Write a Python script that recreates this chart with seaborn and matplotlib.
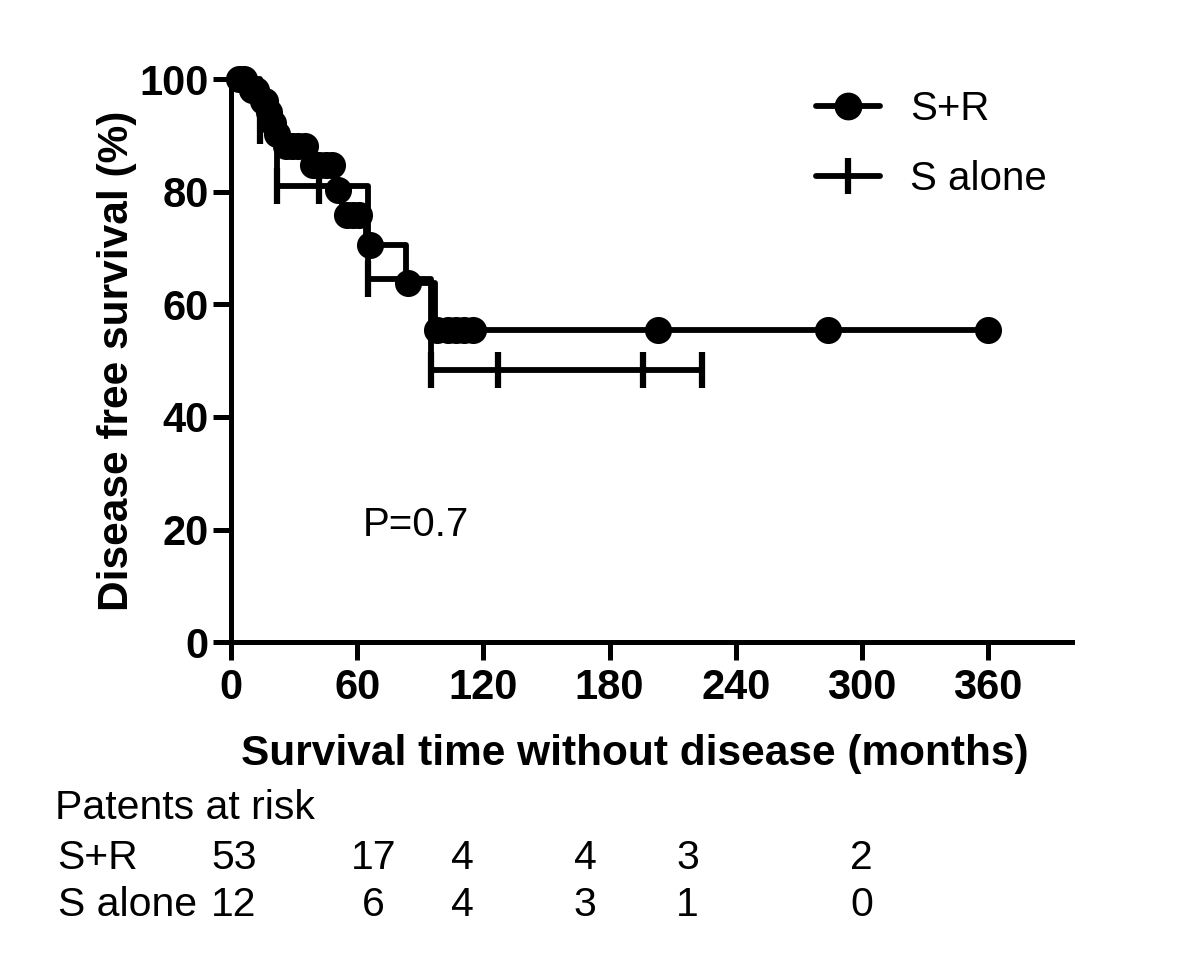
import numpy as np
import pandas as pd
import matplotlib.pyplot as plt
import seaborn as sns
from matplotlib.lines import Line2D

# S+R curve: step times / survival levels, and censored times (circles)
sr_step_t = [0, 8, 14, 17, 19, 21, 24, 37, 50, 53, 64, 83, 97, 360]
sr_step_s = [100, 98.1, 96.2, 94.2, 92.2, 90.2, 88.1, 84.7, 80.4, 75.9, 70.5, 63.8, 55.4, 55.4]
sr_cens_t = [4, 6, 10, 12, 15, 16, 18, 20, 22, 26, 29, 32, 35, 39, 42, 45, 48, 51,
             55, 58, 61, 66, 84, 98, 103, 107, 111, 115, 203, 284, 360]

# S alone curve
s_step_t = [0, 14, 22, 65, 95, 224]
s_step_s = [100, 91.7, 81.0, 64.6, 48.3, 48.3]
s_cens_t = [14, 22, 42, 65, 95, 127, 196, 224]

# patients at risk table
risk_groups = ['S+R', 'S alone']
risk_sr = [53, 17, 4, 4, 3, 2]
risk_s = [12, 6, 4, 3, 1, 0]


def level_at(step_t, step_s, t):
    idx = np.searchsorted(step_t, t, side='right') - 1
    return np.array(step_s)[idx]


steps = pd.concat([
    pd.DataFrame({'time': sr_step_t, 'surv': sr_step_s, 'group': 'S+R'}),
    pd.DataFrame({'time': s_step_t, 'surv': s_step_s, 'group': 'S alone'}),
])
cens_sr = pd.DataFrame({'time': sr_cens_t, 'surv': level_at(sr_step_t, sr_step_s, sr_cens_t)})
cens_s = pd.DataFrame({'time': s_cens_t, 'surv': level_at(s_step_t, s_step_s, s_cens_t)})

sns.set_style("ticks")
plt.rcParams['font.family'] = ['Liberation Sans', 'DejaVu Sans']
plt.rcParams['text.color'] = 'black'
plt.rcParams['axes.labelcolor'] = 'black'
plt.rcParams['axes.edgecolor'] = 'black'

fig = plt.figure(figsize=(12, 9.67), dpi=100)
ax = fig.add_axes([0.1925, 0.336, 0.701, 0.582])

sns.lineplot(data=steps, x='time', y='surv', hue='group', units='group', estimator=None,
             palette={'S+R': 'black', 'S alone': 'black'}, drawstyle='steps-post',
             sort=False, linewidth=4.2, legend=False, ax=ax, clip_on=False)
sns.scatterplot(data=cens_sr, x='time', y='surv', marker='o', s=380, color='black',
                edgecolor='black', linewidth=0, ax=ax, clip_on=False, zorder=3)
sns.scatterplot(data=cens_s, x='time', y='surv', marker='|', s=700, color='black',
                linewidth=4.5, ax=ax, clip_on=False, zorder=3)

ax.set_xlim(0, 400)
ax.set_ylim(0, 100)
ax.set_xticks(range(0, 361, 60))
ax.set_yticks(range(0, 101, 20))
sns.despine(ax=ax)
for sp in ['left', 'bottom']:
    ax.spines[sp].set_linewidth(3.6)
ax.tick_params(axis='both', length=13, width=3.6, labelsize=30, color='black', labelcolor='black')
ax.tick_params(axis='y', pad=3)
ax.tick_params(axis='x', pad=6)
for lbl in ax.get_xticklabels() + ax.get_yticklabels():
    lbl.set_fontweight('bold')
ax.set_xlabel('Survival time without disease (months)', fontsize=30.5, fontweight='bold', labelpad=16)
ax.set_ylabel('Disease free survival (%)', fontsize=30.5, fontweight='bold', labelpad=2)
ax.xaxis.set_label_coords(0.48, -0.163)

handles = [
    Line2D([], [], color='black', lw=4.2, marker='o', markersize=19),
    Line2D([], [], color='black', lw=4.2, marker='|', markersize=26, markeredgewidth=4.5),
]
ax.legend(handles, risk_groups, loc='upper left', bbox_to_anchor=(0.652, 1.045), frameon=False,
          fontsize=29, handlelength=1.6, handletextpad=0.75, labelspacing=0.8)

ax.text(0.157, 0.208, 'P=0.7', transform=ax.transAxes, fontsize=29, va='center', ha='left')

# at-risk table
col_x = [0.195, 0.311, 0.385, 0.4875, 0.573, 0.718]
fig.text(0.046, 0.164, 'Patents at risk', fontsize=29.5, va='center')
for row_y, name, vals in [(0.113, risk_groups[0], risk_sr), (0.064, risk_groups[1], risk_s)]:
    fig.text(0.048, row_y, name, fontsize=29.5, va='center')
    for cx, v in zip(col_x, vals):
        fig.text(cx, row_y, str(v), fontsize=29.5, va='center', ha='center')

fig.savefig('out.png', dpi=100)
